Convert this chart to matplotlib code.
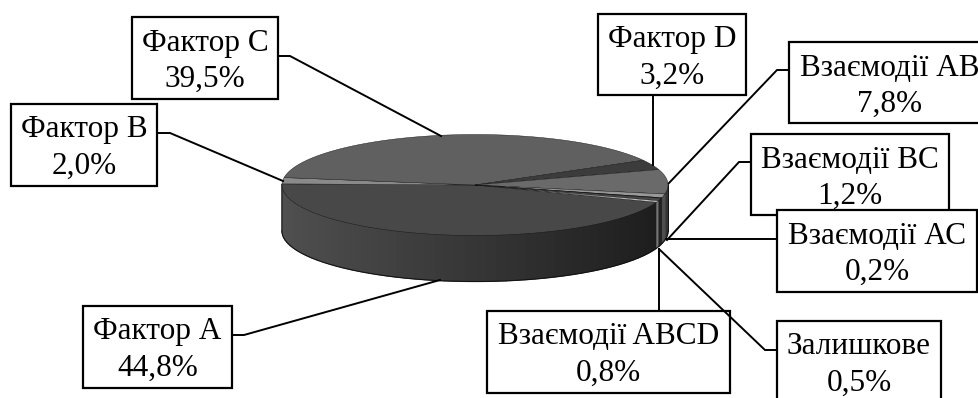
import numpy as np
import matplotlib
matplotlib.use('Agg')
import matplotlib.pyplot as plt
from matplotlib.patches import Polygon, Rectangle

plt.rcParams['font.family'] = ['Liberation Serif', 'DejaVu Serif']

# Частки факторів, за годинниковою стрілкою
factors = ['Фактор А', 'Фактор В', 'Фактор С', 'Фактор D', 'Взаємодії АВ',
           'Взаємодії ВС', 'Взаємодії АС', 'Взаємодії ABCD', 'Залишкове']
shares = [44.8, 2.0, 39.5, 3.2, 7.8, 1.2, 0.2, 0.8, 0.5]
share_labels = ['44,8%', '2,0%', '39,5%', '3,2%', '7,8%', '1,2%', '0,2%', '0,8%', '0,5%']

top_colors = ['#484848', '#8a8a8a', '#606060', '#3c3c3c', '#6a6a6a',
              '#989898', '#202020', '#484848', '#c4c4c4']
# Яскравість бічної стінки для малих секторів
side_grays = [None, 0.3, 0.25, 0.15, 0.2, 0.3, 0.12, 0.13, 0.46]

# Рамки підписів: x0, y0, x1, y1 у пікселях
boxes = [(83, 306, 232, 388), (11, 104, 157, 186), (132, 17, 278, 99),
         (598, 14, 746, 95), (789, 42, 990, 123), (751, 134, 949, 215),
         (777, 210, 977, 292), (487, 311, 730, 393), (777, 321, 941, 410)]
# Лінії-виноски від рамки до краю діаграми
leaders = [[(232, 335), (244, 335), (440, 280)],
           [(157, 133), (170, 133), (283, 181)],
           [(278, 56), (290, 56), (441, 136)],
           [(653, 95), (653, 165)],
           [(789, 70), (777, 70), (669, 183)],
           [(751, 162), (739, 162), (667, 240)],
           [(777, 239), (666, 239)],
           [(659, 311), (659, 249)],
           [(777, 350), (765, 350), (659, 249)]]

cx, cy, rx, ry, depth = 475, 185, 193, 50.5, 46
start_angle = -20


def rim(a0, a1):
    t = np.radians(np.linspace(a0, a1, max(2, int(abs(a1 - a0) * 2))))
    return cx + rx * np.cos(t), cy - ry * np.sin(t)


def side_shade(angle):
    # бічна стінка темнішає зліва направо
    k = (np.cos(np.radians(angle)) + 1) / 2
    return 0.31 - 0.2 * k


fig = plt.figure(figsize=(9.79, 3.98), dpi=100)
ax = fig.add_axes([0, 0, 1, 1])
ax.set_xlim(0, 979)
ax.set_ylim(398, 0)
ax.axis('off')

angles = start_angle - np.cumsum([0] + shares) * 3.6

# Бічна стінка, смугами
for i in range(len(shares)):
    a0, a1 = angles[i], angles[i + 1]
    steps = max(1, int(abs(a1 - a0) / 3))
    edges = np.linspace(a0, a1, steps + 1)
    for b0, b1 in zip(edges[:-1], edges[1:]):
        mid = (b0 + b1) / 2
        if np.sin(np.radians(mid)) > 0.05:
            continue
        x, y = rim(b0, b1)
        pts = np.r_[np.c_[x, y], np.c_[x[::-1], y[::-1] + depth]]
        g = side_shade(mid) if side_grays[i] is None else side_grays[i]
        # тонкі сектори без обведення, інакше вони зливаються
        lw = 0.9 if abs(b1 - b0) > 2.5 else 0.1
        ax.add_patch(Polygon(pts, closed=True, fc=(g, g, g), ec=(g, g, g), lw=lw, zorder=2))

# Контур стінки
x, y = rim(180, 360)
ax.plot(x, y + depth, color='#101010', lw=0.7, zorder=3)
ax.plot([cx - rx, cx - rx], [cy, cy + depth], color='#303030', lw=0.6, zorder=3)
ax.plot([cx + rx, cx + rx], [cy, cy + depth], color='#101010', lw=0.6, zorder=3)

# Верхня площина
for i in range(len(shares)):
    x, y = rim(angles[i], angles[i + 1])
    pts = np.r_[[[cx, cy]], np.c_[x, y]]
    ax.add_patch(Polygon(pts, closed=True, fc=top_colors[i], ec='#101010', lw=0.3, zorder=4))

# Рамки з текстом: кожна наступна перекриває попередню
for n, (name, val, (x0, y0, x1, y1)) in enumerate(zip(factors, share_labels, boxes)):
    z = 6 + n * 0.1
    ax.add_patch(Rectangle((x0, y0), x1 - x0, y1 - y0, fc='white', ec='black', lw=1.6, zorder=z))
    tx = (x0 + x1) / 2
    ax.text(tx, y0 + 26, name, ha='center', va='center', fontsize=22.5, zorder=z)
    ax.text(tx, y0 + 62, val, ha='center', va='center', fontsize=22.5, zorder=z)

# Виноски
for line in leaders:
    xs, ys = zip(*line)
    ax.plot(xs, ys, color='black', lw=1.4, zorder=8, solid_joinstyle='miter')

fig.savefig('out.png', dpi=100, facecolor='white')
